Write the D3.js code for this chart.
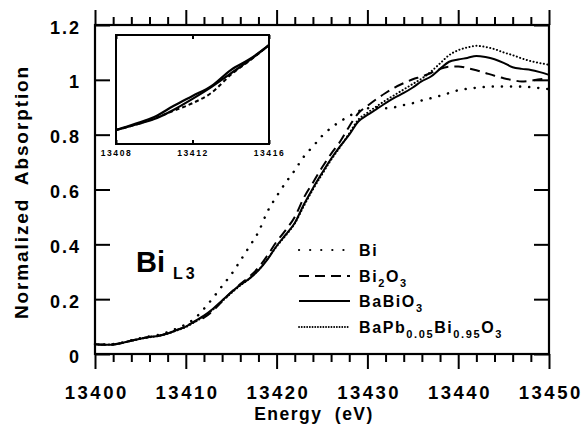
<!DOCTYPE html>
<html>
<head>
<meta charset="utf-8">
<script src="https://cdn.jsdelivr.net/npm/d3@7"></script>
<style>
  body { margin: 0; background: #fff; }
  text { font-family: "Liberation Sans", Arial, Helvetica, sans-serif; font-weight: bold; fill: #000; }
</style>
</head>
<body>
<div id="chart"></div>
<script>
// energy grid (eV), one point per eV
const energy = [13400,13401,13402,13403,13404,13405,13406,13407,13408,13409,
  13410,13411,13412,13413,13414,13415,13416,13417,13418,13419,
  13420,13421,13422,13423,13424,13425,13426,13427,13428,13429,
  13430,13431,13432,13433,13434,13435,13436,13437,13438,13439,
  13440,13441,13442,13443,13444,13445,13446,13447,13448,13449,13450];

// normalized absorption
const bi = [0.036,0.035,0.036,0.042,0.050,0.058,0.064,0.070,0.080,0.093,
  0.108,0.130,0.165,0.205,0.248,0.290,0.340,0.392,0.445,0.520,
  0.575,0.625,0.670,0.720,0.757,0.795,0.825,0.848,0.868,0.885,
  0.896,0.900,0.896,0.900,0.908,0.915,0.925,0.933,0.942,0.952,
  0.962,0.967,0.971,0.974,0.976,0.976,0.976,0.975,0.973,0.970,0.966];
const bi2o3 = [0.036,0.035,0.035,0.041,0.049,0.056,0.062,0.067,0.076,0.088,
  0.101,0.118,0.133,0.158,0.192,0.225,0.255,0.282,0.315,0.360,
  0.410,0.452,0.500,0.570,0.625,0.680,0.730,0.775,0.830,0.878,
  0.905,0.930,0.952,0.972,0.988,1.002,1.012,1.025,1.040,1.048,
  1.049,1.043,1.035,1.025,1.015,1.006,0.999,0.994,0.997,1.002,1.004];
const babio3 = [0.036,0.034,0.034,0.040,0.048,0.056,0.062,0.066,0.075,0.087,
  0.100,0.120,0.140,0.165,0.195,0.225,0.252,0.275,0.305,0.345,
  0.394,0.435,0.478,0.545,0.605,0.660,0.712,0.758,0.800,0.848,
  0.872,0.893,0.915,0.935,0.952,0.972,0.995,1.012,1.040,1.066,
  1.074,1.080,1.087,1.083,1.075,1.062,1.046,1.040,1.036,1.028,1.018];
const bapb = [0.035,0.034,0.035,0.040,0.048,0.055,0.061,0.066,0.074,0.086,
  0.098,0.117,0.137,0.162,0.192,0.222,0.250,0.275,0.306,0.347,
  0.392,0.432,0.476,0.540,0.600,0.655,0.708,0.755,0.805,0.855,
  0.880,0.903,0.925,0.945,0.965,0.985,1.005,1.030,1.060,1.090,
  1.108,1.118,1.124,1.120,1.112,1.100,1.090,1.078,1.068,1.061,1.055];

// inset: close-up of the edge onset
const insetEnergy = [13408,13409,13410,13411,13412,13413,13414,13415,13416];
const insetBi2o3  = [0.075,0.086,0.099,0.115,0.131,0.153,0.190,0.220,0.252];
const insetBabio3 = [0.075,0.088,0.102,0.125,0.146,0.167,0.200,0.223,0.252];
const insetBapb   = [0.075,0.086,0.098,0.117,0.140,0.165,0.193,0.221,0.252];

// tick values and labels
const xTicks = [13400,13410,13420,13430,13440,13450];
const xMinorTicks = [13402,13404,13406,13408,13412,13414,13416,13418,13422,13424,13426,13428,
  13432,13434,13436,13438,13442,13444,13446,13448];
const yTicks = [0,0.2,0.4,0.6,0.8,1,1.2];
const yTickLabels = ["0","0.2","0.4","0.6","0.8","1","1.2"];
const insetTicks = [13408,13412,13416];

// legend labels, [text, isSubscript]
const seriesNames = ["Bi","Bi2O3","BaBiO3","BaPb0.05Bi0.95O3"];
const seriesLabels = [
  [["Bi",false]],
  [["Bi",false],["2",true],["O",false],["3",true]],
  [["BaBiO",false],["3",true]],
  [["BaPb",false],["0.05",true],["Bi",false],["0.95",true],["O",false],["3",true]]
];

const series = [
  {name: seriesNames[0], values: bi, inset: null},
  {name: seriesNames[1], values: bi2o3, inset: insetBi2o3},
  {name: seriesNames[2], values: babio3, inset: insetBabio3},
  {name: seriesNames[3], values: bapb, inset: insetBapb}
];

// line styles per series
const styles = {
  "Bi": {dash: "0.1 9", width: 2.5, cap: "round"},
  "Bi2O3": {dash: "10 6", width: 2, cap: "butt"},
  "BaBiO3": {dash: null, width: 2, cap: "butt"},
  "BaPb0.05Bi0.95O3": {dash: "0.1 3.4", width: 2, cap: "round"}
};

const margin = {top: 25, right: 38, bottom: 74, left: 95};
const W = 587, H = 428;
const width = W - margin.left - margin.right,
      height = H - margin.top - margin.bottom;

const svg = d3.select("#chart").append("svg")
    .attr("width", W)
    .attr("height", H);

const g = svg.append("g")
    .attr("transform", `translate(${margin.left},${margin.top})`);

const x = d3.scaleLinear().domain([13400, 13450]).range([0, width]);
const y = d3.scaleLinear().domain([0, 1.2]).range([height, 0]);

// curves
const line = d3.line()
    .x(d => x(d[0]))
    .y(d => y(d[1]))
    .curve(d3.curveMonotoneX);

g.append("g")
  .selectAll("path")
  .data(series)
  .join("path")
    .attr("fill", "none")
    .attr("stroke", "#000")
    .attr("stroke-width", d => styles[d.name].width)
    .attr("stroke-dasharray", d => styles[d.name].dash)
    .attr("stroke-linecap", d => styles[d.name].cap)
    .attr("d", d => line(energy.map((e, i) => [e, d.values[i]])));

// axes: ticks outward on x, inward on y
function clean(sel) {
  sel.select(".domain").remove();
  sel.selectAll("line").attr("stroke", "#000").attr("stroke-width", 2);
}

g.append("g")
    .attr("transform", `translate(0,${height})`)
    .call(d3.axisBottom(x).tickValues(xMinorTicks).tickSize(8).tickFormat(""))
    .call(clean);

g.append("g")
    .attr("transform", `translate(0,${height})`)
    .call(d3.axisBottom(x).tickValues(xTicks).tickSize(15).tickPadding(17).tickFormat(d3.format("d")))
    .call(clean)
    .call(a => a.selectAll("text")
        .attr("font-size", 18.5)
        .attr("letter-spacing", "2.5px")
        .attr("dx", "1.25px")
        .attr("font-family", "Liberation Sans, Arial, sans-serif"));

g.append("g")
    .call(d3.axisTop(x).tickValues(xMinorTicks).tickSize(8).tickFormat(""))
    .call(clean);
g.append("g")
    .call(d3.axisTop(x).tickValues(xTicks).tickSize(15).tickFormat(""))
    .call(clean);

g.append("g")
    .call(d3.axisLeft(y).tickValues(yTicks).tickSize(-15).tickPadding(14)
        .tickFormat((d, i) => yTickLabels[i]))
    .call(clean)
    .call(a => a.selectAll("text")
        .attr("font-size", 18)
        .attr("letter-spacing", "2px")
        .attr("dy", "0.45em")
        .attr("font-family", "Liberation Sans, Arial, sans-serif"));

g.append("g")
    .attr("transform", `translate(${width},0)`)
    .call(d3.axisRight(y).tickValues(yTicks).tickSize(-15).tickFormat(""))
    .call(clean);

// frame
g.append("rect")
    .attr("width", width)
    .attr("height", height)
    .attr("fill", "none")
    .attr("stroke", "#000")
    .attr("stroke-width", 2.2);

// axis titles
svg.append("text")
    .attr("transform", `translate(${(margin.left + W - margin.right) / 2 - 8},420)`)
    .attr("text-anchor", "middle")
    .attr("font-size", 17.5)
    .attr("letter-spacing", "1.5px")
    .attr("word-spacing", "6px")
    .text("Energy (eV)");

svg.append("text")
    .attr("transform", "translate(28,192) rotate(-90)")
    .attr("text-anchor", "middle")
    .attr("font-size", 19)
    .attr("letter-spacing", "1.9px")
    .attr("word-spacing", "6px")
    .text("Normalized Absorption");

// edge label
const edge = g.append("text")
    .attr("x", 41)
    .attr("y", 247)
    .attr("font-size", 29)
    .text("Bi");
edge.append("tspan")
    .attr("dx", 8)
    .attr("dy", 7)
    .attr("font-size", 16)
    .attr("letter-spacing", "3px")
    .text("L3");

// legend
const legendX = 299 - margin.left;
const legendRows = [250, 276, 301, 327].map(v => v - margin.top);
const legend = g.append("g");

legend.selectAll("line")
  .data(series)
  .join("line")
    .attr("x1", legendX)
    .attr("x2", legendX + 51)
    .attr("y1", (d, i) => legendRows[i])
    .attr("y2", (d, i) => legendRows[i])
    .attr("stroke", "#000")
    .attr("stroke-width", d => d.name === "Bi" ? 2.2 : 1.8)
    .attr("stroke-dasharray", d => d.name === "Bi" ? "0.1 11" : d.name === "BaPb0.05Bi0.95O3" ? "0.1 2.6" : styles[d.name].dash)
    .attr("stroke-linecap", d => styles[d.name].cap);

legend.selectAll("text")
  .data(seriesLabels)
  .join("text")
    .attr("x", legendX + 60)
    .attr("y", (d, i) => legendRows[i] + 6)
    .attr("font-size", 16)
    .attr("letter-spacing", "1.6px")
  .selectAll("tspan")
  .data(d => d.map((p, j) => ({t: p[0], sub: p[1], prevSub: j > 0 && d[j - 1][1]})))
  .join("tspan")
    .attr("font-size", d => d.sub ? 11 : 16)
    .attr("dy", d => d.sub ? 5 : (d.prevSub ? -5 : 0))
    .text(d => d.t);

// inset
const inset = {left: 116, right: 269, top: 35, bottom: 144};
const ix = d3.scaleLinear().domain([13408, 13416]).range([inset.left, inset.right]);
const iy = d3.scaleLinear().domain([0.046, 0.273]).range([inset.bottom, inset.top]);
const ig = svg.append("g");

ig.append("rect")
    .attr("x", inset.left)
    .attr("y", inset.top)
    .attr("width", inset.right - inset.left)
    .attr("height", inset.bottom - inset.top)
    .attr("fill", "#fff")
    .attr("stroke", "#000")
    .attr("stroke-width", 2);

const iline = d3.line()
    .x(d => ix(d[0]))
    .y(d => iy(d[1]))
    .curve(d3.curveMonotoneX);

ig.append("g")
  .selectAll("path")
  .data(series.filter(d => d.inset))
  .join("path")
    .attr("fill", "none")
    .attr("stroke", "#000")
    .attr("stroke-width", d => d.name === "Bi2O3" ? 2 : 2.2)
    .attr("stroke-dasharray", d => d.name === "Bi2O3" ? "4 3" : null)
    .attr("d", d => iline(insetEnergy.map((e, i) => [e, d.inset[i]])));

ig.append("g")
    .attr("transform", `translate(0,${inset.bottom})`)
    .call(d3.axisBottom(ix).tickValues(insetTicks).tickSize(-4).tickPadding(6).tickFormat(d3.format("d")))
    .call(clean)
    .call(a => a.selectAll("text")
        .attr("font-size", 8.5)
        .attr("letter-spacing", "1.6px")
        .attr("font-family", "Liberation Sans, Arial, sans-serif"));

ig.append("g")
    .attr("transform", `translate(0,${inset.top})`)
    .call(d3.axisTop(ix).tickValues(insetTicks).tickSize(-4).tickFormat(""))
    .call(clean);
</script>
</body>
</html>
